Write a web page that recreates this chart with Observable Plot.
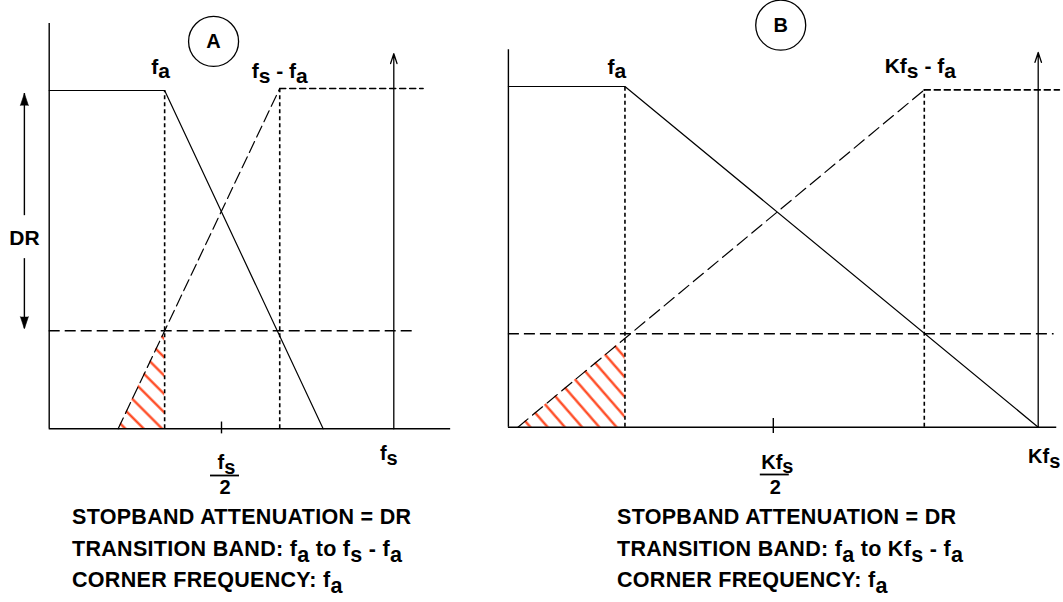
<!DOCTYPE html>
<html>
<head>
<meta charset="utf-8">
<script src="https://cdn.jsdelivr.net/npm/d3@7"></script>
<script src="https://cdn.jsdelivr.net/npm/@observablehq/plot@0.6"></script>
<style>
  html, body { margin: 0; padding: 0; background: #fff; }
  #wrap { position: relative; width: 1063px; height: 602px; overflow: hidden; background: #fff;
          font-family: "Liberation Sans", Arial, Helvetica, sans-serif; }
  .panel { position: absolute; top: 0; height: 500px; }
  .panel svg { max-width: none !important; display: block; }
  .note { position: absolute; top: 502px; font-weight: bold; font-size: 21.5px; line-height: 31.5px;
          letter-spacing: 0.3px; white-space: nowrap; color: #000; }
  .note .sub { position: relative; top: 0.3em; line-height: 1; }
</style>
</head>
<body>
<div id="wrap"></div>
<script>
// ---------------- Panel A (x in units of fs, y: 0 = floor, 1 = passband) ----------------
const aFilter   = [{f: 0, m: 1}, {f: 0.335, m: 1}, {f: 0.795, m: 0}];      // anti-aliasing filter
const aImage    = [{f: 0.2, m: 0}, {f: 0.669, m: 1.006}];                 // image around fs
const aImageTop = [{f: 0.669, m: 1.006}, {f: 1.085, m: 1.006}];
const aHatch    = [{f: 0.2, m: 0}, {f: 0.335, m: 0.29}];                  // aliased region
const aGuides   = [{f: 0.335, m: 1}, {f: 0.669, m: 1.006}];               // fa, fs - fa
const aDR = 0.29, aDRend = 1.058;
const aAxisX = 1.165, aAxisY = 1.198, aArrowTop = 1.109;
const aTopLabels = ["f_a", "f_s - f_a"];
const aBottomLabel = "f_s";
const aHalfLabel = ["f_s", "2"];
const aBadge = "A";

// ---------------- Panel B (x in units of Kfs) ----------------
const bFilter   = [{f: 0, m: 1}, {f: 0.22, m: 1}, {f: 1.0, m: 0}];
const bImage    = [{f: 0.018, m: 0}, {f: 0.785, m: 0.99}];
const bImageTop = [{f: 0.785, m: 0.99}, {f: 1.04, m: 0.99}];
const bHatch    = [{f: 0.018, m: 0}, {f: 0.22, m: 0.261}];
const bGuides   = [{f: 0.22, m: 1}, {f: 0.785, m: 0.99}];
const bDR = 0.274, bDRend = 1.03;
const bAxisX = 1.035, bAxisY = 1.108, bArrowTop = 1.1;
const bTopLabels = ["f_a", "Kf_s - f_a"];
const bBottomLabel = "Kf_s";
const bHalfLabel = ["Kf_s", "2"];
const bBadge = "B";

// ---------------- Notes ----------------
const notesA = ["STOPBAND ATTENUATION = DR", "TRANSITION BAND: f_a to f_s - f_a", "CORNER FREQUENCY: f_a"];
const notesB = ["STOPBAND ATTENUATION = DR", "TRANSITION BAND: f_a to Kf_s - f_a", "CORNER FREQUENCY: f_a"];

const ink = "#000";
const hatchColor = "#ff3a10";
const font = "'Liberation Sans', Arial, Helvetica, sans-serif";

const label = (t, x, y, dx, dy, size = 20, extra = {}) =>
  Plot.text([t], {x, y, dx, dy, text: d => d, fontSize: size, fontWeight: "bold",
                  lineAnchor: "bottom", fill: ink, ...extra});

// fraction bar under a numerator at x = 0.5
const fractionBar = (dy, left, right) =>
  Plot.ruleY([0], {x1: 0.5, x2: 0.5, dy, insetLeft: -left, insetRight: -right, stroke: ink, strokeWidth: 1.8});

function richify(svg, shift) {
  d3.select(svg).selectAll("text").each(function () {
    const s = this.textContent;
    if (!s.includes("_")) return;
    const t = d3.select(this).style("white-space", "pre").text(null);
    let down = false;
    for (const p of s.split(/(_.)/)) {
      if (!p) continue;
      if (p[0] === "_") { t.append("tspan").attr("dy", shift + "em").text(p[1]); down = true; }
      else {
        const ts = t.append("tspan").text(p);
        if (down) { ts.attr("dy", (-shift) + "em"); down = false; }
      }
    }
  });
}

function addHatch(svg, id, angle) {
  const defs = d3.select(svg).insert("defs", ":first-child");
  const p = defs.append("pattern").attr("id", id).attr("patternUnits", "userSpaceOnUse")
    .attr("width", 13).attr("height", 13).attr("patternTransform", `rotate(${angle})`);
  p.append("line").attr("x1", 6.5).attr("x2", 6.5).attr("y1", -2).attr("y2", 15)
    .attr("stroke", hatchColor).attr("stroke-width", 2.2);
}

function commonMarks(P) {
  return [
    Plot.areaY(P.hatch, {x: "f", y1: 0, y2: "m", fill: `url(#${P.hatchId})`}),
    // axes
    Plot.ruleX([0], {y1: 0, y2: P.axisY, stroke: ink, strokeWidth: 1.4}),
    Plot.ruleY([0], {x1: 0, x2: P.axisX, stroke: ink, strokeWidth: 1.4}),
    Plot.ruleX([0.5], {y1: P.tick[0], y2: P.tick[1], stroke: ink, strokeWidth: 1.4}),
    Plot.arrow([{f: 1}], {x1: "f", x2: "f", y1: 0, y2: P.arrowTop, headLength: 12, headAngle: 36,
                          stroke: ink, strokeWidth: 1.3}),
    // guides
    Plot.ruleY([P.dr], {x1: 0, x2: P.drEnd, stroke: ink, strokeWidth: 1.5, strokeDasharray: "11,5"}),
    Plot.ruleX(P.guides, {x: "f", y1: 0, y2: "m", stroke: ink, strokeWidth: 1.6, strokeDasharray: "4,3"}),
    Plot.line(P.imageTop, {x: "f", y: "m", stroke: ink, strokeWidth: 1.6, strokeDasharray: "6,4"}),
    Plot.line(P.image, {x: "f", y: "m", stroke: ink, strokeWidth: 1.2, strokeDasharray: P.imgDash}),
    Plot.line(P.filter, {x: "f", y: "m", stroke: ink, strokeWidth: 1.2}),
    // badge
    Plot.dot([P.badgePos], {x: "f", y: "m", r: 25, stroke: ink, fill: "none", strokeWidth: 1.3}),
    Plot.text([P.badge], {x: P.badgePos.f, y: P.badgePos.m, fontSize: 20, fontWeight: "bold", fill: ink})
  ];
}

// ---------------- Panel A plot ----------------
const plotA = Plot.plot({
  width: 495, height: 500,
  marginLeft: 48.7, marginRight: 101.7, marginTop: 90, marginBottom: 71.7,
  x: {domain: [0, 1], axis: null},
  y: {domain: [0, 1], axis: null},
  style: {fontFamily: font, background: "transparent", overflow: "visible"},
  marks: [
    ...commonMarks({hatch: aHatch, hatchId: "hatchA", axisX: aAxisX, axisY: aAxisY, tick: [-0.015, 0.02],
      arrowTop: aArrowTop, dr: aDR, drEnd: aDRend, guides: aGuides, image: aImage, imageTop: aImageTop,
      imgDash: "12,5", filter: aFilter, badge: aBadge, badgePos: {f: 0.477, m: 1.145}}),
    // DR double arrow
    Plot.ruleX([-0.072], {y1: 0.296, y2: 0.503, stroke: ink, strokeWidth: 1.4}),
    Plot.ruleX([-0.072], {y1: 0.63, y2: 0.991, stroke: ink, strokeWidth: 1.4}),
    Plot.vector([{f: -0.072, m: 0.991, rot: 0}, {f: -0.072, m: 0.296, rot: 180}],
      {x: "f", y: "m", rotate: "rot", length: 12, r: 4, shape: "spike", anchor: "end",
       fill: ink, stroke: ink, strokeWidth: 0.6}),
    Plot.text(["DR"], {x: -0.072, y: 0.564, fontSize: 21, fontWeight: "bold", fill: ink}),
    // labels
    label(aTopLabels[0], aGuides[0].f, aGuides[0].m, -4, -16.7, 21),
    label(aTopLabels[1], aGuides[1].f, aGuides[1].m, 0, -10, 21),
    label(aBottomLabel, 1, 0, -5, 31.3, 20),
    label(aHalfLabel[0], 0.5, 0, 5, 40.5, 20),
    fractionBar(46.7, 11, 18),
    label(aHalfLabel[1], 0.5, 0, 3.5, 65, 20)
  ]
});
addHatch(plotA, "hatchA", -45);
richify(plotA, 0.22);

// ---------------- Panel B plot ----------------
const plotB = Plot.plot({
  width: 568, height: 500,
  marginLeft: 12.9, marginRight: 25.3, marginTop: 86, marginBottom: 73.3,
  x: {domain: [0, 1], axis: null},
  y: {domain: [0, 1], axis: null},
  style: {fontFamily: font, background: "transparent", overflow: "visible"},
  marks: [
    ...commonMarks({hatch: bHatch, hatchId: "hatchB", axisX: bAxisX, axisY: bAxisY, tick: [-0.0185, 0.0255],
      arrowTop: bArrowTop, dr: bDR, drEnd: bDRend, guides: bGuides, image: bImage, imageTop: bImageTop,
      imgDash: "13,6", filter: bFilter, badge: bBadge, badgePos: {f: 0.514, m: 1.18}}),
    label(bTopLabels[0], bGuides[0].f, bGuides[0].m, -8, -13, 21),
    label(bTopLabels[1], bGuides[1].f, bGuides[1].m, -4, -16.7, 21),
    label(bBottomLabel, 1, 0, 6, 36, 20),
    label(bHalfLabel[0], 0.5, 0, 4, 41.8, 20),
    fractionBar(47.3, 13, 16),
    label(bHalfLabel[1], 0.5, 0, 2, 66.6, 20)
  ]
});
addHatch(plotB, "hatchB", -41);
richify(plotB, 0.22);

// ---------------- Layout ----------------
const wrap = document.getElementById("wrap");
function place(node, left, width) {
  const d = document.createElement("div");
  d.className = "panel"; d.style.left = left + "px"; d.style.width = width + "px";
  d.appendChild(node); wrap.appendChild(d);
}
place(plotA, 0, 495);
place(plotB, 495, 568);

function noteBlock(lines, left) {
  const d = document.createElement("div");
  d.className = "note"; d.style.left = left + "px";
  lines.forEach((line, i) => {
    if (i) d.appendChild(document.createElement("br"));
    for (const p of line.split(/(_.)/)) {
      if (!p) continue;
      if (p[0] === "_") {
        const s = document.createElement("span"); s.className = "sub"; s.textContent = p[1]; d.appendChild(s);
      } else d.appendChild(document.createTextNode(p));
    }
  });
  wrap.appendChild(d);
}
noteBlock(notesA, 72);
noteBlock(notesB, 617);
</script>
</body>
</html>
